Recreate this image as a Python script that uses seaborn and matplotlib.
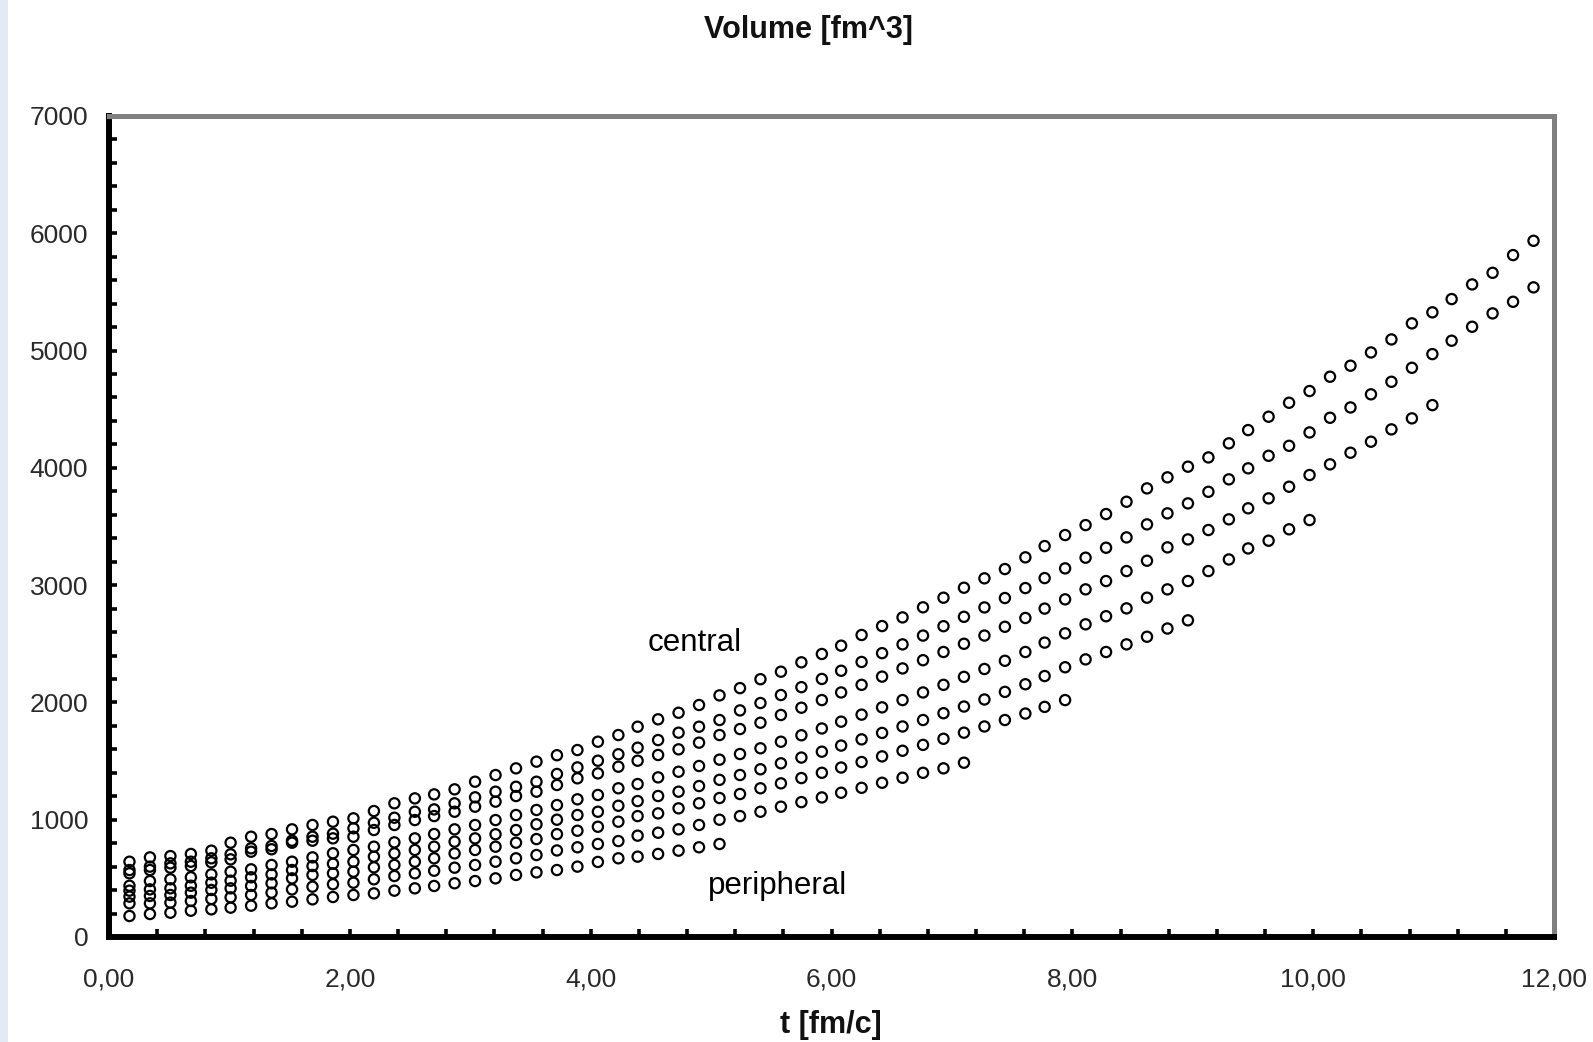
import numpy as np
import pandas as pd
import matplotlib
matplotlib.use("Agg")
import matplotlib.pyplot as plt
from matplotlib.ticker import MultipleLocator, FuncFormatter
from matplotlib.patches import Rectangle
import seaborn as sns

# time grid [fm/c]
times = [0.17, 0.34, 0.51, 0.68, 0.85, 1.01, 1.18, 1.35, 1.52, 1.69,
         1.86, 2.03, 2.20, 2.37, 2.54, 2.70, 2.87, 3.04, 3.21, 3.38,
         3.55, 3.72, 3.89, 4.06, 4.23, 4.39, 4.56, 4.73, 4.90, 5.07,
         5.24, 5.41, 5.58, 5.75, 5.92, 6.08, 6.25, 6.42, 6.59, 6.76,
         6.93, 7.10, 7.27, 7.44, 7.61, 7.77, 7.94, 8.11, 8.28, 8.45,
         8.62, 8.79, 8.96, 9.13, 9.30, 9.46, 9.63, 9.80, 9.97, 10.14,
         10.31, 10.48, 10.65, 10.82, 10.99, 11.15, 11.32, 11.49, 11.66, 11.83]

# volume [fm^3] per centrality class, from central to peripheral
vol_c1 = [642, 679, 690, 708, 736, 804, 855, 878, 918, 955, 983, 1012, 1074, 1140, 1182,
          1216, 1259, 1324, 1381, 1438, 1495, 1550, 1594, 1665, 1722, 1793, 1856, 1912,
          1978, 2060, 2122, 2198, 2262, 2342, 2413, 2484, 2575, 2651, 2725, 2811, 2893,
          2978, 3058, 3137, 3237, 3333, 3427, 3512, 3606, 3711, 3825, 3919, 4010, 4089,
          4209, 4322, 4436, 4555, 4655, 4777, 4871, 4984, 5095, 5232, 5326, 5439, 5564,
          5663, 5814, 5936]
vol_c2 = [571, 600, 628, 642, 671, 705, 756, 776, 821, 855, 881, 927, 974, 1017, 1068,
          1088, 1140, 1191, 1239, 1281, 1324, 1390, 1446, 1503, 1558, 1614, 1679, 1742,
          1793, 1850, 1932, 1995, 2063, 2130, 2200, 2270, 2345, 2420, 2495, 2570, 2650,
          2730, 2810, 2890, 2975, 3060, 3143, 3234, 3319, 3407, 3518, 3612, 3697, 3796,
          3902, 3996, 4103, 4188, 4302, 4427, 4515, 4627, 4734, 4853, 4970, 5084, 5203,
          5317, 5416, 5539]
vol_c3 = [543, 571, 591, 605, 637, 662, 727, 748, 804, 821, 841, 855, 912, 955, 997,
          1031, 1068, 1111, 1154, 1202, 1239, 1296, 1353, 1395, 1452, 1503, 1552, 1600,
          1657, 1722, 1773, 1827, 1893, 1955, 2020, 2085, 2150, 2220, 2290, 2360, 2430,
          2500, 2570, 2645, 2720, 2800, 2879, 2964, 3035, 3120, 3208, 3322, 3390, 3470,
          3561, 3655, 3740, 3839, 3939, 4030, 4129, 4223, 4328, 4422, 4535]
vol_c4 = [437, 477, 492, 509, 534, 557, 577, 614, 642, 679, 714, 742, 770, 807, 841,
          878, 918, 955, 997, 1040, 1083, 1125, 1174, 1211, 1268, 1304, 1361, 1409,
          1458, 1512, 1560, 1609, 1665, 1720, 1778, 1836, 1896, 1958, 2020, 2085, 2150,
          2218, 2285, 2355, 2430, 2510, 2589, 2666, 2735, 2802, 2893, 2964, 3035, 3120,
          3219, 3313, 3379, 3476, 3555]
vol_c5 = [395, 406, 415, 437, 463, 480, 509, 534, 571, 605, 625, 642, 685, 713, 742,
          770, 813, 841, 876, 912, 961, 1000, 1040, 1068, 1119, 1159, 1202, 1239,
          1287, 1340, 1381, 1430, 1481, 1530, 1580, 1632, 1685, 1740, 1795, 1850, 1908,
          1965, 2025, 2090, 2155, 2225, 2300, 2367, 2430, 2495, 2560, 2630, 2700]
vol_c6 = [344, 350, 358, 378, 401, 415, 435, 458, 500, 529, 543, 557, 594, 614, 642,
          671, 713, 742, 770, 804, 835, 877, 906, 940, 983, 1031, 1054, 1097,
          1140, 1185, 1219, 1268, 1310, 1355, 1400, 1445, 1492, 1540, 1588, 1638, 1690,
          1742, 1795, 1850, 1905, 1962, 2020]
vol_c7 = [287, 287, 293, 307, 324, 338, 358, 378, 406, 429, 450, 463, 492, 520, 543,
          565, 591, 614, 642, 671, 699, 738, 765, 793, 818, 864, 889, 918,
          955, 1000, 1031, 1068, 1111, 1150, 1190, 1230, 1272, 1315, 1358, 1400, 1438,
          1486]
vol_c8 = [179, 196, 207, 224, 236, 250, 267, 287, 301, 321, 341, 358, 372, 395, 415,
          435, 458, 477, 500, 529, 551, 571, 600, 640, 671, 685, 708, 736, 765, 793]

series = {"c1": vol_c1, "c2": vol_c2, "c3": vol_c3, "c4": vol_c4,
          "c5": vol_c5, "c6": vol_c6, "c7": vol_c7, "c8": vol_c8}

x_ticks = [0, 2, 4, 6, 8, 10, 12]
y_ticks = [0, 1000, 2000, 3000, 4000, 5000, 6000, 7000]

frames = []
for name, vals in series.items():
    frames.append(pd.DataFrame({"t": times[:len(vals)], "V": vals, "cls": name}))
df = pd.concat(frames, ignore_index=True)

sns.set_theme(style="white")
plt.rcParams["font.family"] = ["Liberation Sans", "DejaVu Sans"]

W, H = 1593, 1042
fig = plt.figure(figsize=(W / 100, H / 100), dpi=100)
fig.patch.set_facecolor("white")
fig.patches.append(Rectangle((0, 0), 8 / W, 1, transform=fig.transFigure,
                             facecolor="#e2ebf3", edgecolor="none", zorder=0))

ax = fig.add_axes([109 / W, 1 - 937 / H, (1554 - 109) / W, (937 - 116) / H])
ax.set_facecolor("white")

sns.scatterplot(data=df, x="t", y="V", ax=ax, marker="o", s=54,
                color="black", facecolors="none", edgecolor="black",
                linewidth=1.6, legend=False, zorder=3)
for coll in ax.collections:
    coll.set_facecolor("none")
    coll.set_edgecolor("black")

ax.set_xlim(0, 12)
ax.set_ylim(0, 7000)
ax.set_xticks(x_ticks)
ax.set_yticks(y_ticks)
ax.xaxis.set_minor_locator(MultipleLocator(0.4))
ax.yaxis.set_minor_locator(MultipleLocator(200))
ax.xaxis.set_major_formatter(FuncFormatter(lambda v, p: f"{v:.2f}".replace(".", ",")))
ax.yaxis.set_major_formatter(FuncFormatter(lambda v, p: f"{int(v)}"))

ax.tick_params(axis="both", which="both", direction="in", color="black",
               length=5.5, width=2.6, labelsize=19, labelcolor="#2a2a2a")
ax.tick_params(axis="y", which="major", pad=15)
ax.tick_params(axis="x", which="major", pad=22)
ax.tick_params(left=True, bottom=True, top=False, right=False, which="both")

for side in ("left", "bottom"):
    ax.spines[side].set_color("black")
    ax.spines[side].set_linewidth(4.3)
for side in ("top", "right"):
    ax.spines[side].set_color("#808080")
    ax.spines[side].set_linewidth(3.6)
    ax.spines[side].set_visible(True)

ax.set_xlabel("")
ax.set_ylabel("")
ax.grid(False)

ax.text(4.86, 2506, "central", fontsize=22.5, ha="center", va="center", color="black")
ax.text(5.55, 435, "peripheral", fontsize=22.5, ha="center", va="center", color="black")

fig.text(808 / W, 1 - 30 / H, "Volume [fm^3]", fontsize=22, fontweight="bold",
         ha="center", va="center", color="#111111")
fig.text(831 / W, 1 - 1025 / H, "t [fm/c]", fontsize=22, fontweight="bold",
         ha="center", va="center", color="#111111")

fig.savefig("out.png", dpi=100, facecolor="white")
